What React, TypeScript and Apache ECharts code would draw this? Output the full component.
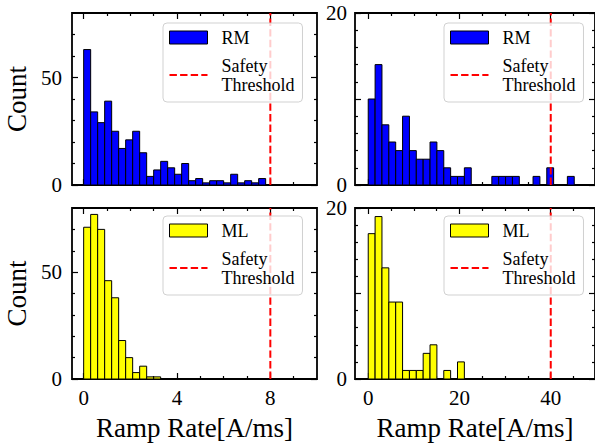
import React, { useEffect, useRef } from 'react';
import * as echarts from 'echarts';

// ---- data ----
const rmLeftCounts = [63, 34, 29, 39, 25, 17, 21, 25, 15, 4, 7, 11, 8, 5, 10, 2, 3, 1, 2, 2, 1, 5, 1, 2, 1, 3];
const mlLeftCounts = [71, 77, 70, 46, 38, 18, 10, 3, 6, 1, 1];
const rmRightCounts = [10, 14, 7, 5, 4, 8, 4, 3, 3, 5, 4, 2, 1, 1, 2, 0, 0, 0, 1, 1, 1, 1, 0, 0, 1, 0, 2, 0, 0, 1];
const mlRightCounts = [17, 19, 13, 9, 9, 1, 1, 1, 3, 4, 0, 1, 0, 2];
const leftBinWidth = 0.3;
const rightBinWidth = 1.505;
const leftThreshold = 8;
const rightThreshold = 40;

const leftXLabels = [0, 4, 8];
const leftXMinor = [1, 2, 3, 5, 6, 7, 9];
const rightXLabels = [0, 20, 40];
const rightXMinor = [5, 10, 15, 25, 30, 35, 45];
const leftYLabels = [0, 50];
const leftYMajor = [0, 50];
const leftYMinor = [10, 20, 30, 40, 60, 70];
const rightYLabels = [0, 20];
const rightYMajor = [0, 10, 20];
const rightYMinor = [2, 4, 6, 8, 12, 14, 16, 18];

const FONT = 'Liberation Serif, Times New Roman, DejaVu Serif, serif';
const BLUE = '#0000ff';
const YELLOW = '#ffff00';
// dashed-line legend glyph (four dashes)
const DASH_ICON = 'path://M0,0 L7.4,0 L7.4,2 L0,2 Z M10.6,0 L18,0 L18,2 L10.6,2 Z M21.2,0 L28.6,0 L28.6,2 L21.2,2 Z M31.8,0 L38,0 L38,2 L31.8,2 Z';

type Panel = {
  grid: { left: number; top: number; width: number; height: number };
  xMin: number; xMax: number; xMajor: number[]; xMinor: number[]; showXLabels: boolean;
  yMin: number; yMax: number; yMajor: number[]; yMinor: number[]; yLabels: number[]; yLabelMargin: number;
  counts: number[]; binWidth: number; color: string; name: string; threshold: number;
  xName?: string; yName?: string;
  legendPos: { left: number; top: number };
};

const panels: Panel[] = [
  {
    grid: { left: 72, top: 13, width: 245, height: 172 },
    xMin: -0.5, xMax: 10, xMajor: leftXLabels, xMinor: leftXMinor, showXLabels: false,
    yMin: 0, yMax: 80, yMajor: leftYMajor, yMinor: leftYMinor, yLabels: leftYLabels, yLabelMargin: 10,
    counts: rmLeftCounts, binWidth: leftBinWidth, color: BLUE, name: 'RM', threshold: leftThreshold,
    yName: 'Count', legendPos: { left: 163, top: 23 },
  },
  {
    grid: { left: 355, top: 13, width: 241.5, height: 172 },
    xMin: -2.9, xMax: 49.7, xMajor: rightXLabels, xMinor: rightXMinor, showXLabels: false,
    yMin: 0, yMax: 20, yMajor: rightYMajor, yMinor: rightYMinor, yLabels: rightYLabels, yLabelMargin: 8,
    counts: rmRightCounts, binWidth: rightBinWidth, color: BLUE, name: 'RM', threshold: rightThreshold,
    legendPos: { left: 444, top: 23 },
  },
  {
    grid: { left: 72, top: 208, width: 245, height: 171 },
    xMin: -0.5, xMax: 10, xMajor: leftXLabels, xMinor: leftXMinor, showXLabels: true,
    yMin: 0, yMax: 80, yMajor: leftYMajor, yMinor: leftYMinor, yLabels: leftYLabels, yLabelMargin: 10,
    counts: mlLeftCounts, binWidth: leftBinWidth, color: YELLOW, name: 'ML', threshold: leftThreshold,
    xName: 'Ramp Rate[A/ms]', yName: 'Count', legendPos: { left: 163, top: 216 },
  },
  {
    grid: { left: 355, top: 208, width: 241.5, height: 171 },
    xMin: -2.9, xMax: 49.7, xMajor: rightXLabels, xMinor: rightXMinor, showXLabels: true,
    yMin: 0, yMax: 20, yMajor: rightYMajor, yMinor: rightYMinor, yLabels: rightYLabels, yLabelMargin: 8,
    counts: mlRightCounts, binWidth: rightBinWidth, color: YELLOW, name: 'ML', threshold: rightThreshold,
    xName: 'Ramp Rate[A/ms]', legendPos: { left: 444, top: 216 },
  },
];

const MAJOR_LEN = 6;
const MINOR_LEN = 3;
const TICK_FONT = 21;
const NAME_FONT = 27;

function buildOption() {
  const grid: any[] = [];
  const xAxis: any[] = [];
  const yAxis: any[] = [];
  const series: any[] = [];
  const legend: any[] = [];

  panels.forEach((p, gi) => {
    grid.push({
      ...p.grid, show: true, borderColor: '#000', borderWidth: 1.8,
      backgroundColor: 'transparent', containLabel: false,
    });
    const tickStyle = { color: '#000', width: 1.2 };
    const baseX = {
      type: 'value', gridIndex: gi, min: p.xMin, max: p.xMax,
      splitLine: { show: false }, axisLine: { show: false, onZero: false },
    };
    const baseY = {
      type: 'value', gridIndex: gi, min: p.yMin, max: p.yMax,
      splitLine: { show: false }, axisLine: { show: false, onZero: false },
    };
    const xIdx = xAxis.length;
    xAxis.push({
      ...baseX, position: 'bottom',
      axisTick: { show: true, inside: true, length: MAJOR_LEN, customValues: p.xMajor, lineStyle: tickStyle },
      axisLabel: p.showXLabels
        ? { show: true, customValues: p.xMajor, margin: 8, fontSize: TICK_FONT, color: '#000', fontFamily: FONT }
        : { show: false },
      name: p.xName || '', nameLocation: 'middle', nameGap: 35,
      nameTextStyle: { fontSize: NAME_FONT, color: '#000', fontFamily: FONT },
    });
    xAxis.push({
      ...baseX, position: 'bottom',
      axisTick: { show: true, inside: true, length: MINOR_LEN, customValues: p.xMinor, lineStyle: tickStyle },
      axisLabel: { show: false },
    });
    xAxis.push({
      ...baseX, position: 'top',
      axisTick: { show: true, inside: true, length: MAJOR_LEN, customValues: p.xMajor, lineStyle: tickStyle },
      axisLabel: { show: false },
    });
    xAxis.push({
      ...baseX, position: 'top',
      axisTick: { show: true, inside: true, length: MINOR_LEN, customValues: p.xMinor, lineStyle: tickStyle },
      axisLabel: { show: false },
    });

    const yIdx = yAxis.length;
    yAxis.push({
      ...baseY, position: 'left',
      axisTick: { show: true, inside: true, length: MAJOR_LEN, customValues: p.yMajor, lineStyle: tickStyle },
      axisLabel: { show: true, customValues: p.yLabels, margin: p.yLabelMargin, fontSize: TICK_FONT, color: '#000', fontFamily: FONT },
      name: p.yName || '', nameLocation: 'middle', nameGap: 42, nameRotate: 90,
      nameTextStyle: { fontSize: NAME_FONT, color: '#000', fontFamily: FONT },
    });
    yAxis.push({
      ...baseY, position: 'left',
      axisTick: { show: true, inside: true, length: MINOR_LEN, customValues: p.yMinor, lineStyle: tickStyle },
      axisLabel: { show: false },
    });
    yAxis.push({
      ...baseY, position: 'right',
      axisTick: { show: true, inside: true, length: MAJOR_LEN, customValues: p.yMajor, lineStyle: tickStyle },
      axisLabel: { show: false },
    });
    yAxis.push({
      ...baseY, position: 'right',
      axisTick: { show: true, inside: true, length: MINOR_LEN, customValues: p.yMinor, lineStyle: tickStyle },
      axisLabel: { show: false },
    });

    const fill = p.color;
    series.push({
      type: 'custom',
      name: p.name,
      xAxisIndex: xIdx,
      yAxisIndex: yIdx,
      data: p.counts.map((c, i) => [i * p.binWidth, (i + 1) * p.binWidth, c]),
      encode: { x: [0, 1], y: 2 },
      itemStyle: { color: fill, borderColor: '#000', borderWidth: 1 },
      renderItem: (params: any, api: any) => {
        const x0 = api.value(0);
        const x1 = api.value(1);
        const c = api.value(2);
        if (!c) return null;
        const pTop = api.coord([x0, c]);
        const pBot = api.coord([x1, 0]);
        return {
          type: 'rect',
          shape: { x: pTop[0], y: pTop[1], width: pBot[0] - pTop[0], height: pBot[1] - pTop[1] },
          style: { fill, stroke: '#000', lineWidth: 1 },
        };
      },
      z: 2,
    });
    series.push({
      type: 'line',
      name: 'Safety Threshold',
      xAxisIndex: xIdx,
      yAxisIndex: yIdx,
      data: [[p.threshold, p.yMin], [p.threshold, p.yMax]],
      symbol: 'none',
      lineStyle: { color: '#ff0000', width: 2, type: [7.4, 3.2] },
      itemStyle: { color: '#ff0000' },
      z: 3,
      silent: true,
    });

    legend.push({
      left: p.legendPos.left,
      top: p.legendPos.top,
      orient: 'vertical',
      itemWidth: 38,
      itemHeight: 13,
      itemGap: 9,
      padding: [5, 8, 8, 6],
      backgroundColor: 'rgba(255,255,255,0.8)',
      borderColor: 'rgba(204,204,204,0.9)',
      borderWidth: 1,
      borderRadius: 4,
      selectedMode: false,
      textStyle: { fontFamily: FONT, fontSize: 18, color: '#000', lineHeight: 19, padding: [0, 0, 0, 9] },
      formatter: (name: string) => (name === 'Safety Threshold' ? 'Safety\nThreshold' : name),
      data: [
        { name: p.name, icon: 'rect', itemStyle: { color: fill, borderColor: '#000', borderWidth: 1 } },
        { name: 'Safety Threshold', icon: DASH_ICON, itemStyle: { color: '#ff0000', borderWidth: 0 } },
      ],
      z: 10,
    });
  });

  return {
    animation: false,
    backgroundColor: '#ffffff',
    textStyle: { fontFamily: FONT },
    grid, xAxis, yAxis, series, legend,
  };
}

export default function App() {
  const ref = useRef<HTMLDivElement>(null);
  useEffect(() => {
    if (!ref.current) return;
    const chart = echarts.init(ref.current, undefined, { renderer: 'svg' });
    chart.setOption(buildOption() as any);
    return () => chart.dispose();
  }, []);
  return (
    <div
      ref={ref}
      style={{ position: 'fixed', left: 0, top: 0, width: 595, height: 445 }}
    />
  );
}
